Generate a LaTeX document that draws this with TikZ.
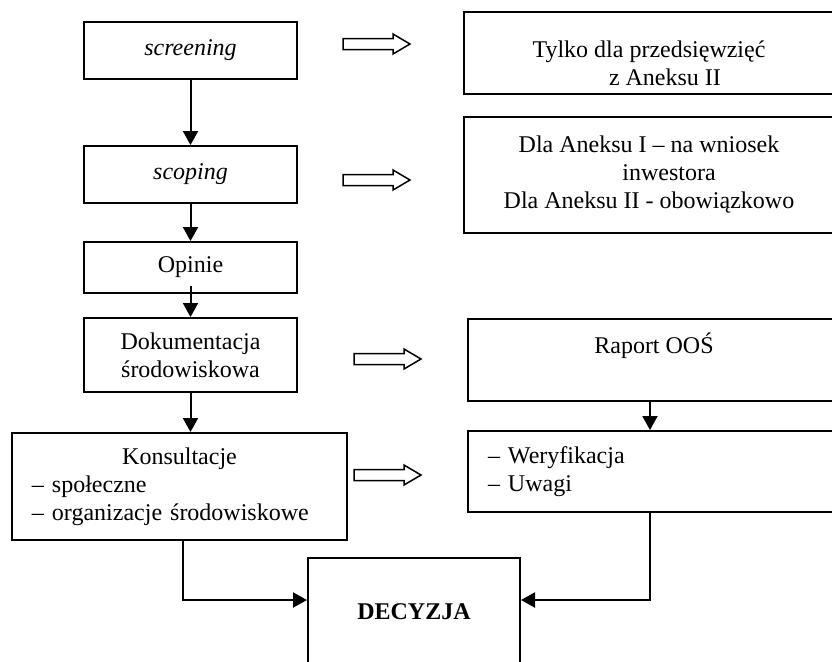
\documentclass[tikz,border=0pt]{standalone}
\usepackage{fontspec}
\setmainfont{Liberation Serif}
\usetikzlibrary{arrows.meta}
\tikzstyle{process} = [rectangle, draw, line width=1pt, text centered, inner sep=0pt]
\tikzstyle{listbox} = [rectangle, draw, line width=1pt, align=left, inner xsep=10pt, inner ysep=0pt]
\tikzstyle{connector} = [draw, line width=1pt, -{Triangle[length=7pt, width=7.5pt]}]
\tikzstyle{hollow} = [draw, line width=0.75pt, line join=miter]

\begin{document}
\begin{tikzpicture}[x=0.5pt, y=-0.5pt, align=center, font=\fontsize{12}{14}\selectfont]
            \path[use as bounding box, clip] (0,0) rectangle (832,661);

            \node[process, minimum width=106.5pt, minimum height=28.5pt] (screening) at (190.5,50.5) {\textit{screening}};
            \node[process, minimum width=106.5pt, minimum height=28.5pt] (scoping) at (190.5,174.5) {\textit{scoping}};
            \node[process, minimum width=106.5pt, minimum height=25.5pt] (opinie) at (190.5,267.5) {Opinie};
            \node[process, minimum width=106.5pt, minimum height=37pt] (dok_srod) at (190.5,355) {Dokumentacja\\środowiskowa};
            \node[listbox, text width=147.5pt, minimum height=53.5pt] (konsultacje) at (179.5,486.5) {\makebox[\hsize]{Konsultacje}\\– społeczne\\– organizacje środowiskowe};
            \node[process, minimum width=106pt, minimum height=54pt] (decyzja) at (414,612) {\textbf{DECYZJA}};

            \node[process, minimum width=185pt, minimum height=41pt] (tylko_aneks) at (649,53) {\rule{0pt}{19pt}Tylko dla przedsięwzięć\\\hspace*{16pt}z Aneksu II};
            \node[process, minimum width=185pt, minimum height=58pt] (dla_aneks) at (649,175) {Dla Aneksu I – na wniosek\\\hspace*{20pt}inwestora\\Dla Aneksu II - obowiązkowo};
            \node[process, minimum width=186pt, minimum height=41pt] (raport) at (654,360) {Raport OOŚ\rule[-17pt]{0pt}{17pt}};
            \node[listbox, text width=166pt, minimum height=40.5pt] (weryfikacja) at (654,471.5) {– Weryfikacja\\– Uwagi};

            \coordinate (arr_scr) at (343,44);
            \coordinate (arr_scop) at (343,180);
            \coordinate (arr_dok) at (354,359);
            \coordinate (arr_kons) at (354,475);
            \foreach \a in {arr_scr, arr_scop, arr_dok, arr_kons}
                \draw[hollow] (\a) ++(0,-5.5) -- ++(50,0) -- ++(0,-4.5) -- ++(17,10) -- ++(-17,10) -- ++(0,-4.5) -- ++(-50,0) -- cycle;

            \draw[connector] (screening) -- (scoping);
            \draw[connector] (scoping) -- (opinie);
            \draw[connector] ([yshift=4pt]opinie.south) -- (dok_srod.north);
            \draw[connector] (dok_srod.south) -- (dok_srod.south |- konsultacje.north);
            \draw[connector] ([xshift=1.75pt]konsultacje.south) |- ([yshift=6pt]decyzja.west);
            \draw[connector] ([xshift=-2pt]raport.south) -- ([xshift=-2pt]raport.south |- weryfikacja.north);
            \draw[connector] ([xshift=-2pt]weryfikacja.south) |- ([yshift=6pt]decyzja.east);
        \end{tikzpicture}
\end{document}
